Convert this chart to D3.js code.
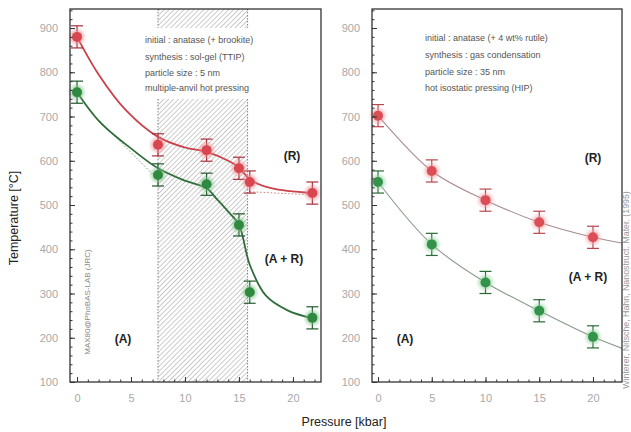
<!DOCTYPE html>
<html><head><meta charset="utf-8">
<script src="https://cdn.jsdelivr.net/npm/d3@7"></script>
<style>
body{margin:0;background:#fff}
svg{display:block}
text{font-family:"Liberation Sans",Arial,sans-serif}
</style>
</head><body>
<svg id="chart" width="631" height="432"></svg>
<script>
// ---------- data ----------
const xTickValues = [0, 5, 10, 15, 20];
const yTickValues = [100, 200, 300, 400, 500, 600, 700, 800, 900];

// left panel: sol-gel, 5 nm
const leftPressure = [0, 7.5, 12, 15, 16, 21.8];
const leftRutileT = [880, 636, 624, 583, 552, 527];
const leftAnataseT = [755, 568, 547, 455, 303, 245];
const leftRutileFitP = [0, 2, 4.5, 7.5, 10, 12, 14, 15, 16, 18, 21.8];
const leftRutileFitT = [880, 795, 715, 654, 630, 620, 600, 585, 558, 538, 527];
const leftAnataseFitP = [0, 2.1, 5.2, 7.5, 10, 12, 13, 14, 15, 16, 17.5, 19.5, 21.8];
const leftAnataseFitT = [755, 688, 624, 583, 555, 538, 512, 485, 455, 365, 295, 262, 244];
const leftRutileDotP = [16, 21.8];
const leftRutileDotT = [530, 523];
const leftAnataseDotP = [2.1, 7.6];
const leftAnataseDotT = [690, 555];
const hatchRange = [7.5, 15.8];

// right panel: gas condensation, 35 nm
const rightPressure = [0, 5, 10, 15, 20];
const rightRutileT = [702, 577, 511, 461, 427];
const rightAnataseT = [552, 411, 325, 261, 202];
const rightFitP = [0, 5, 10, 15, 20, 22.7];
const rightRutileFitT = [702, 577, 511, 461, 427, 414];
const rightAnataseFitT = [552, 411, 325, 261, 202, 176];

const errT = 25;

const leftInfo = ["initial : anatase (+ brookite)", "synthesis : sol-gel (TTIP)", "particle size : 5 nm", "multiple-anvil hot pressing"];
const rightInfo = ["initial : anatase (+ 4 wt% rutile)", "synthesis : gas condensation", "particle size : 35 nm", "hot isostatic pressing (HIP)"];
const phaseLabels = ["(R)", "(A + R)", "(A)"];
const leftSideNote = "MAX80@PhoBAS-LAB (JRC)";
const rightSideNote = "Winterer, Nitsche, Hahn, Nanostruct. Mater. (1995)";

// ---------- drawing ----------
const svg = d3.select("#chart");
const COL = {
  red: "#d8474f", redDark: "#a8303a", redLine: "#c9414b",
  green: "#2f8a3f", greenDark: "#1f5a2a", greenLine: "#2f6e3a",
  axis: "#333", tick: "#a8a8a8"
};

const defs = svg.append("defs");
const pat = defs.append("pattern").attr("id", "hatch").attr("patternUnits", "userSpaceOnUse")
  .attr("width", 3.5).attr("height", 3.5).attr("patternTransform", "rotate(45)");
pat.append("line").attr("x1", 0).attr("y1", 0).attr("x2", 0).attr("y2", 3.5)
  .attr("stroke", "#7a7a7a").attr("stroke-width", 0.9);
const glow = defs.append("filter").attr("id", "glow").attr("x", "-50%").attr("y", "-50%").attr("width", "200%").attr("height", "200%");
glow.append("feGaussianBlur").attr("stdDeviation", 1.6);

function panel(opt) {
  const x = d3.scaleLinear().domain(opt.xDomain).range([opt.left, opt.right]);
  const y = d3.scaleLinear().domain([100, 943]).range([382, 9]);
  const g = svg.append("g");

  if (opt.hatch) {
    g.append("rect").attr("x", x(opt.hatch[0])).attr("y", 9)
      .attr("width", x(opt.hatch[1]) - x(opt.hatch[0])).attr("height", 373)
      .attr("fill", "url(#hatch)").attr("opacity", 0.85);
    opt.hatch.forEach(v => g.append("line").attr("x1", x(v)).attr("x2", x(v)).attr("y1", 9).attr("y2", 382)
      .attr("stroke", "#666").attr("stroke-width", 0.8).attr("stroke-dasharray", "1.5,1.5"));
  }
  // info box
  g.append("rect").attr("x", opt.infoX - 4).attr("y", 28).attr("width", opt.infoW).attr("height", 71).attr("fill", "#fff");
  opt.info.forEach((t, i) => g.append("text").attr("x", opt.infoX).attr("y", opt.infoY[i])
    .attr("font-size", 9).attr("fill", "#555").text(t));

  const line = d3.line().x(d => x(d[0])).y(d => y(d[1])).curve(d3.curveCatmullRom.alpha(0.5));
  opt.fits.forEach(f => {
    g.append("path").datum(d3.zip(f.p, f.t)).attr("d", line).attr("fill", "none")
      .attr("stroke", f.color).attr("stroke-width", f.w).attr("stroke-dasharray", f.dash || null)
      .attr("opacity", f.op || 1);
  });

  opt.series.forEach(s => {
    const pts = d3.zip(s.p, s.t);
    const eg = g.append("g");
    pts.forEach(([p, t]) => {
      eg.append("line").attr("x1", x(p)).attr("x2", x(p)).attr("y1", y(t + errT)).attr("y2", y(t - errT))
        .attr("stroke", s.bar).attr("stroke-width", 1.2);
      [t + errT, t - errT].forEach(v => eg.append("line").attr("x1", x(p) - 6).attr("x2", x(p) + 6)
        .attr("y1", y(v)).attr("y2", y(v)).attr("stroke", s.bar).attr("stroke-width", 1.2));
    });
    g.append("g").selectAll("circle").data(pts).join("circle").attr("cx", d => x(d[0])).attr("cy", d => y(d[1]))
      .attr("r", 7.5).attr("fill", s.glow).attr("opacity", 0.55).attr("filter", "url(#glow)");
    g.append("g").selectAll("circle").data(pts).join("circle").attr("cx", d => x(d[0])).attr("cy", d => y(d[1]))
      .attr("r", 5).attr("fill", s.fill);
  });

  // axes
  const ax = g.append("g").attr("transform", "translate(0,382)")
    .call(d3.axisBottom(x).tickValues(xTickValues).tickSize(-5).tickPadding(12).tickSizeOuter(0));
  const axm = g.append("g").attr("transform", "translate(0,382)")
    .call(d3.axisBottom(x).tickValues(d3.range(0, Math.floor(opt.xDomain[1]) + 1)).tickSize(-2.5).tickFormat("").tickSizeOuter(0));
  const ay = g.append("g").attr("transform", `translate(${opt.left},0)`)
    .call(d3.axisLeft(y).tickValues(yTickValues).tickSize(-5).tickPadding(12).tickSizeOuter(0));
  const aym = g.append("g").attr("transform", `translate(${opt.left},0)`)
    .call(d3.axisLeft(y).tickValues(d3.range(100, 941, 20)).tickSize(-2.5).tickFormat("").tickSizeOuter(0));
  [ax, axm, ay, aym].forEach(a => {
    a.select(".domain").remove();
    a.selectAll(".tick line").attr("stroke", COL.axis).attr("stroke-width", 1);
    a.selectAll("text").attr("fill", COL.tick).attr("font-size", 11).attr("font-family", "Liberation Sans, Arial, sans-serif");
  });
  g.append("rect").attr("x", opt.left).attr("y", 9).attr("width", opt.right - opt.left).attr("height", 373)
    .attr("fill", "none").attr("stroke", COL.axis).attr("stroke-width", 1.3);

  opt.labels.forEach(l => g.append("text").attr("x", l.x).attr("y", l.y).attr("text-anchor", "middle")
    .attr("font-size", 12).attr("font-weight", "bold").attr("fill", "#222").text(l.t));
  return {x, y};
}

panel({
  left: 70, right: 321, xDomain: [-0.65, 22.6],
  hatch: hatchRange,
  info: leftInfo, infoX: 145, infoW: 142, infoY: [43, 60, 76, 91],
  fits: [
    {p: leftRutileFitP, t: leftRutileFitT, color: COL.redLine, w: 1.8},
    {p: leftAnataseFitP, t: leftAnataseFitT, color: COL.greenLine, w: 1.8},
    {p: leftRutileDotP, t: leftRutileDotT, color: COL.redLine, w: 1, dash: "1.5,2", op: 0.7},
    {p: leftAnataseDotP, t: leftAnataseDotT, color: COL.greenLine, w: 1, dash: "1.5,2", op: 0.7}
  ],
  series: [
    {p: leftPressure, t: leftRutileT, fill: COL.red, glow: "#f08a90", bar: COL.redDark},
    {p: leftPressure, t: leftAnataseT, fill: COL.green, glow: "#7fc08a", bar: COL.greenDark}
  ],
  labels: [{x: 292, y: 160, t: phaseLabels[0]}, {x: 284, y: 263, t: phaseLabels[1]}, {x: 123, y: 343, t: phaseLabels[2]}]
});

panel({
  left: 372, right: 622, xDomain: [-0.56, 22.7],
  info: rightInfo, infoX: 425, infoW: 160, infoY: [41, 58, 75, 91],
  fits: [
    {p: rightFitP, t: rightRutileFitT, color: "#a88c8e", w: 1.1},
    {p: rightFitP, t: rightAnataseFitT, color: "#8a9a8c", w: 1.1}
  ],
  series: [
    {p: rightPressure, t: rightRutileT, fill: "#dc4e56", glow: "#f29aa0", bar: "#b8454c"},
    {p: rightPressure, t: rightAnataseT, fill: "#34934a", glow: "#8ccf98", bar: "#2a6a36"}
  ],
  labels: [{x: 593, y: 162, t: phaseLabels[0]}, {x: 588, y: 281, t: phaseLabels[1]}, {x: 405, y: 343, t: phaseLabels[2]}]
});

svg.append("text").attr("transform", "translate(18,218) rotate(-90)").attr("text-anchor", "middle")
  .attr("font-size", 12.5).attr("fill", "#222").text("Temperature [°C]");
svg.append("text").attr("x", 344).attr("y", 426).attr("text-anchor", "middle")
  .attr("font-size", 12.5).attr("fill", "#222").text("Pressure [kbar]");
svg.append("text").attr("transform", "translate(90,302) rotate(-90)").attr("text-anchor", "middle")
  .attr("font-size", 8).attr("fill", "#888").text(leftSideNote);
svg.append("text").attr("transform", "translate(629,290) rotate(-90)").attr("text-anchor", "middle")
  .attr("font-size", 8.8).attr("fill", "#999").text(rightSideNote);
</script>
</body></html>
